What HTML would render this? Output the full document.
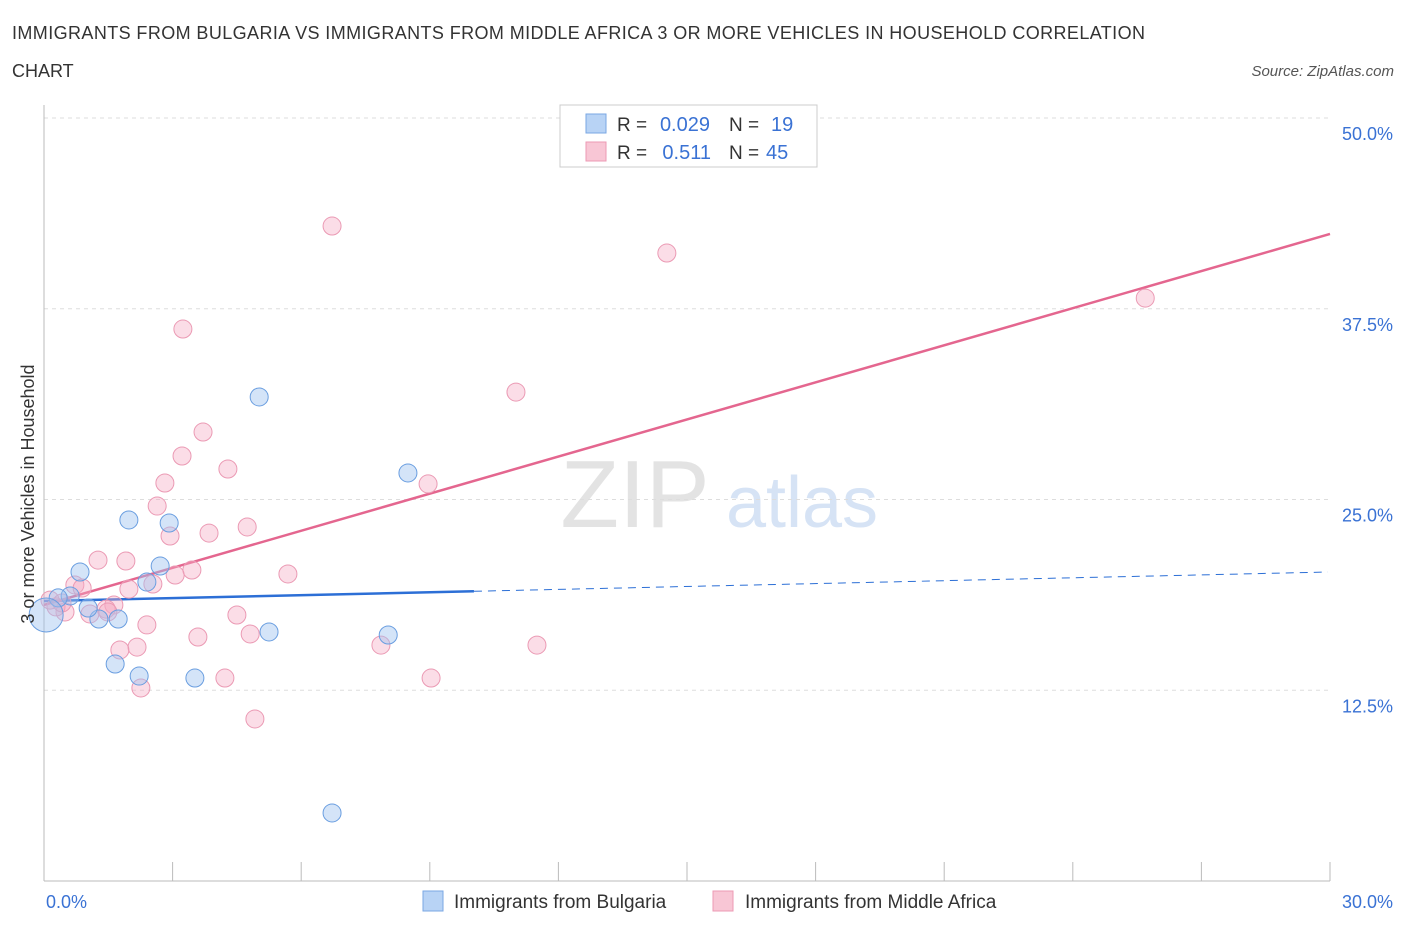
<!DOCTYPE html>
<html><head><meta charset="utf-8"><style>
body{margin:0;background:#fff;font-family:"Liberation Sans",sans-serif;}
svg text{font-family:"Liberation Sans",sans-serif;}
</style></head><body>
<svg id="c" width="1406" height="930">
<text x="12" y="39" font-size="18" fill="#333" textLength="1133">IMMIGRANTS FROM BULGARIA VS IMMIGRANTS FROM MIDDLE AFRICA 3 OR MORE VEHICLES IN HOUSEHOLD CORRELATION</text>
<text x="12" y="77" font-size="18" fill="#333">CHART</text>
<text x="1394" y="76" font-size="15" font-style="italic" fill="#555" text-anchor="end">Source: ZipAtlas.com</text>
<g>
<text x="635" y="527" font-size="96" font-family="Liberation Serif" fill="#e3e3e3" text-anchor="middle">ZIP</text>
<text x="802" y="527" font-size="72" fill="#d6e3f5" text-anchor="middle">atlas</text>
</g>
<g id="grid"></g><g id="axes"></g><g id="lines"></g><g id="pts"></g>
<g>
<rect x="560" y="105" width="257" height="62" fill="#fff" stroke="#ccc"/>
<rect x="586" y="114" width="20" height="19" fill="#b8d3f5" stroke="#7aa7e3"/>
<rect x="586" y="142" width="20" height="19" fill="#f8c6d5" stroke="#ec9ab4"/>
<text x="617" y="131" font-size="19" fill="#333">R =</text>
<text x="710" y="131" font-size="20" fill="#3a72d4" text-anchor="end">0.029</text>
<text x="729" y="131" font-size="19" fill="#333">N =</text>
<text x="771" y="131" font-size="20" fill="#3a72d4">19</text>
<text x="617" y="159" font-size="19" fill="#333">R =</text>
<text x="711" y="159" font-size="20" fill="#3a72d4" text-anchor="end">0.511</text>
<text x="729" y="159" font-size="19" fill="#333">N =</text>
<text x="766" y="159" font-size="20" fill="#3a72d4">45</text>
</g>
<g>
<rect x="423" y="891" width="20" height="20" fill="#b8d3f5" stroke="#7aa7e3"/>
<text x="454" y="908" font-size="19" fill="#333">Immigrants from Bulgaria</text>
<rect x="713" y="891" width="20" height="20" fill="#f8c6d5" stroke="#ec9ab4"/>
<text x="745" y="908" font-size="19" fill="#333">Immigrants from Middle Africa</text>
</g>
<text x="0" y="0" font-size="18" fill="#333" text-anchor="middle" transform="translate(34 494) rotate(-90)">3 or more Vehicles in Household</text>
</svg>
<script>
const blueX=[0.84,1.98,2.92,2.71,2.40,5.02,8.49,5.25,8.03,1.66,2.22,3.52,6.72,1.73,1.28,1.03,0.61,0.33,0.05];
const blueY=[20.25,23.66,23.46,20.64,19.59,31.72,26.74,16.32,16.12,14.22,13.43,13.30,4.46,17.17,17.17,17.89,18.68,18.55,17.43];
const pinkX=[6.72,14.53,3.24,25.69,11.01,3.71,3.22,4.29,8.96,2.82,2.64,4.74,3.85,2.94,1.26,1.91,3.45,3.06,5.69,2.54,1.98,0.72,0.89,1.63,1.45,1.07,0.49,0.28,0.14,4.50,2.40,3.59,4.81,7.86,11.50,2.17,1.77,2.26,4.22,9.03,4.92,0.42,1.49];
const pinkY=[42.92,41.15,36.17,38.20,32.04,29.42,27.85,27.00,26.02,26.08,24.57,23.20,22.80,22.61,21.03,20.97,20.38,20.05,20.12,19.46,19.13,19.40,19.20,18.09,17.82,17.50,17.63,17.96,18.41,17.43,16.78,15.99,16.19,15.46,15.46,15.33,15.14,12.65,13.30,13.30,10.62,18.22,17.63];
const yTicks=[12.5,25,37.5,50];
const yTickLabels=["12.5%","25.0%","37.5%","50.0%"];
const blueTrend=[18.35,20.25];
const blueSolidEnd=[10.03];
const pinkTrend=[18.09,42.40];
const NS="http://www.w3.org/2000/svg";
const X=v=>44+v/30*1286, Y=v=>881-v/50*763;
function mk(t,a,p){const e=document.createElementNS(NS,t);for(const k in a)e.setAttribute(k,a[k]);p.appendChild(e);return e;}
const grid=document.getElementById('grid'),axes=document.getElementById('axes');
yTicks.forEach((t,i)=>{
 const l=mk('line',{x1:44,x2:1330,y1:Y(t),y2:Y(t),stroke:'#ddd','stroke-dasharray':'4,4'},grid);
 
 
 const tx=mk('text',{x:1393,y:Y(t)+22,'font-size':18,fill:'#3a72d4','text-anchor':'end'},axes);
 tx.textContent=yTickLabels[i];
 
 
});
const ax=mk('line',{x1:44,x2:44,y1:105,y2:881,stroke:'#bbb'},axes);


const bx=mk('line',{x1:44,x2:1330,y1:881,y2:881,stroke:'#bbb'},axes);


for(let i=1;i<=10;i++){const xx=44+i*128.6;const tk=mk('line',{x1:xx,x2:xx,y1:862,y2:881,stroke:'#bbb'},axes);
 
 }
[[0,'0.0%','start',46],[30,'30.0%','end',1393]].forEach(d=>{const t=mk('text',{x:d[3],y:908,'font-size':18,fill:'#3a72d4','text-anchor':d[2]},axes);t.textContent=d[1];
 
 });
const pts=document.getElementById('pts'),lines=document.getElementById('lines');
pinkX.forEach((x,i)=>{const c=mk('circle',{cx:X(x),cy:Y(pinkY[i]),r:9,fill:'rgba(244,170,195,0.4)',stroke:'#eb9ab4','stroke-width':1},pts);
 
 });
blueX.forEach((x,i)=>{const c=mk('circle',{cx:X(x),cy:Y(blueY[i]),r:i==18?17:9,fill:'rgba(160,196,240,0.45)',stroke:'#6a9ee0','stroke-width':1},pts);
 
 });
const bAt=v=>blueTrend[0]+(blueTrend[1]-blueTrend[0])*v/30;
const b1=mk('line',{x1:X(0),y1:Y(bAt(0)),x2:X(blueSolidEnd[0]),y2:Y(bAt(blueSolidEnd[0])),stroke:'#2c6fd6','stroke-width':2.5},lines);


const b2=mk('line',{x1:X(blueSolidEnd[0]),y1:Y(bAt(blueSolidEnd[0])),x2:X(29.95),y2:Y(bAt(29.95)),stroke:'#2c6fd6','stroke-width':1,'stroke-dasharray':'8,6'},lines);


const p1=mk('line',{x1:X(0),y1:Y(pinkTrend[0]),x2:X(30),y2:Y(pinkTrend[1]),stroke:'#e4668f','stroke-width':2.5},lines);


</script>
</body></html>
